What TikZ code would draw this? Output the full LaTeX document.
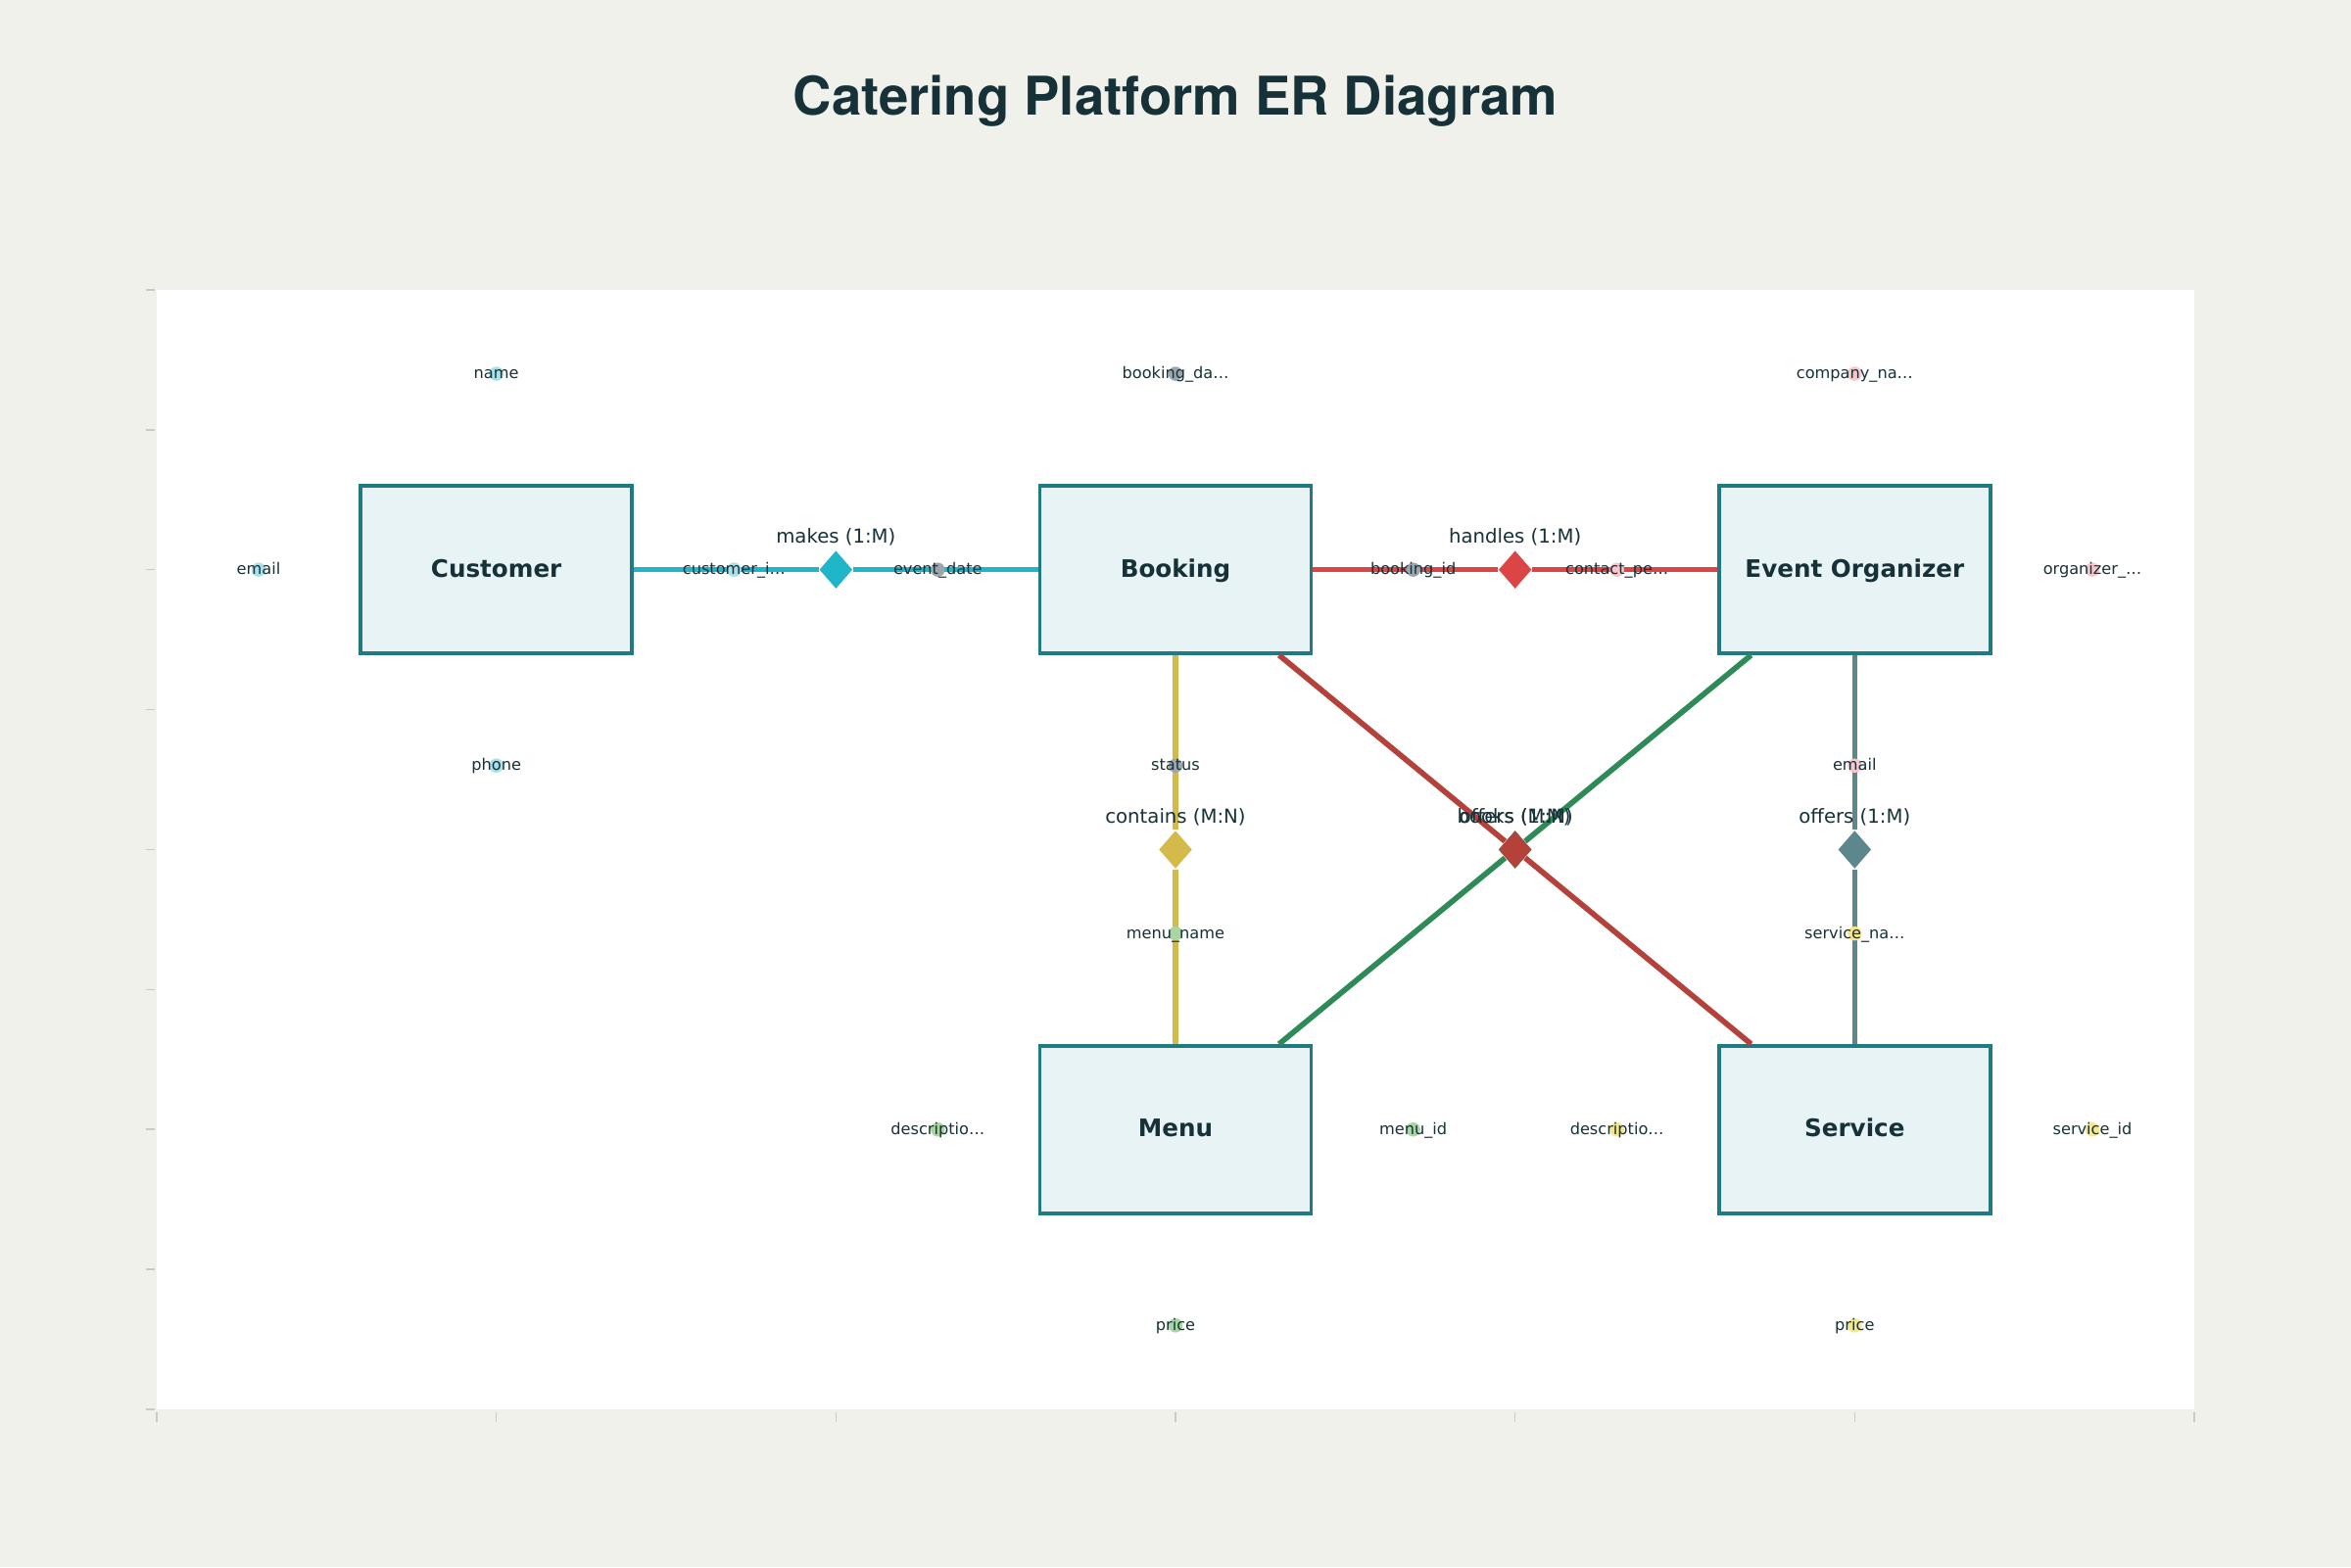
\documentclass[tikz,border=0pt]{standalone}
\usepackage{fontspec}
\setmainfont{DejaVu Sans}
\newfontfamily\titlefont{TeX Gyre Heros}
\usetikzlibrary{shapes.geometric}
\definecolor{pagebg}{HTML}{F1F1EC}
\definecolor{tickgray}{HTML}{CBCBC4}
\definecolor{darktext}{HTML}{163238}
\definecolor{entityline}{HTML}{1F7A82}
\definecolor{entityfill}{HTML}{E8F3F5}
\definecolor{makescol}{HTML}{1FB6CA}
\definecolor{handlescol}{HTML}{DC4545}
\definecolor{containscol}{HTML}{D4B94B}
\definecolor{offerscol}{HTML}{5C878D}
\definecolor{bookscol}{HTML}{B5413B}
\definecolor{menuoffcol}{HTML}{2E8B57}
\definecolor{custdot}{HTML}{A9DFE8}
\definecolor{bookdot}{HTML}{9CA6AE}
\definecolor{orgdot}{HTML}{F9C6CB}
\definecolor{menudot}{HTML}{A8D5A2}
\definecolor{servdot}{HTML}{F7E68A}
\tikzset{
  entity node/.style={
    draw=entityline,
    fill=entityfill,
    line width=1pt,
    minimum width=2.77cm,
    minimum height=1.71cm,
    inner sep=0pt,
    text=darktext,
    text height=5.1pt,
    text depth=0.9pt,
    font=\fontsize{7}{8}\selectfont\bfseries,
  },
  rel node/.style={
    diamond,
    inner sep=0pt,
    minimum width=0.34cm,
    minimum height=0.39cm,
  },
  rel line/.style={line width=1.6pt},
  rel text/.style={
    inner sep=0pt,
    text=darktext,
    font=\fontsize{5.6}{7}\selectfont,
  },
  attr dot/.style={
    circle,
    inner sep=0pt,
    minimum size=0.145cm,
  },
  attr text/.style={
    inner sep=0pt,
    text=darktext,
    text height=3.36pt,
    text depth=0.6pt,
    font=\fontsize{4.6}{6}\selectfont,
  },
  axis tick/.style={draw=tickgray, line width=0.45pt},
}

\begin{document}
\begin{tikzpicture}[x=3.4667cm, y=1.429cm]
        \useasboundingbox (-0.4615,-1.1267) rectangle (6.4615,10.0705);
        \fill[pagebg] (-0.4615,-1.1267) rectangle (6.4615,10.0705);
        \fill[white]  (0,0) rectangle (6,8);
        \draw[axis tick] (-0.032,0) -- (-0.006,0) (-0.032,1) -- (-0.006,1) (-0.032,2) -- (-0.006,2)
                         (-0.032,3) -- (-0.006,3) (-0.032,4) -- (-0.006,4) (-0.032,5) -- (-0.006,5)
                         (-0.032,6) -- (-0.006,6) (-0.032,7) -- (-0.006,7) (-0.032,8) -- (-0.006,8);
        \draw[axis tick] (0,-0.021) -- (0,-0.091) (1,-0.021) -- (1,-0.091) (2,-0.021) -- (2,-0.091)
                         (3,-0.021) -- (3,-0.091) (4,-0.021) -- (4,-0.091) (5,-0.021) -- (5,-0.091)
                         (6,-0.021) -- (6,-0.091);

        \node[text=darktext, font=\titlefont\bfseries\fontsize{15.5}{18}\selectfont] (title) at (3,9.35) {Catering Platform ER Diagram};

        \node[entity node] (cust) at (1,6) {Customer};
        \node[entity node] (book) at (3,6) {Booking};
        \node[entity node] (org)  at (5,6) {Event Organizer};
        \node[entity node] (menu) at (3,2) {Menu};
        \node[entity node] (serv) at (5,2) {Service};

        \node[rel node, fill=makescol   ] (makes)    at (2,6) {};
        \node[rel node, fill=handlescol ] (handles)  at (4,6) {};
        \node[rel node, fill=containscol] (contains) at (3,4) {};
        \node[rel node, fill=offerscol  ] (offers)   at (5,4) {};
        \node[rel node, fill=menuoffcol ] (offersm)  at (4,4) {};
        \node[rel node, fill=bookscol   ] (books)    at (4,4) {};

        \draw[rel line, makescol]    (cust) -- (makes) -- (book);
        \draw[rel line, handlescol]  (book) -- (handles) -- (org);
        \draw[rel line, containscol] (book) -- (contains) -- (menu);
        \draw[rel line, offerscol]   (org) -- (offers) -- (serv);
        \draw[rel line, menuoffcol]  (org) -- (offersm) -- (menu);
        \draw[rel line, bookscol]    (book) -- (books) -- (serv);

        \node[rel text] (makes-t)    at (2,6.235) {makes (1:M)};
        \node[rel text] (handles-t)  at (4,6.235) {handles (1:M)};
        \node[rel text] (contains-t) at (3,4.235) {contains (M:N)};
        \node[rel text] (offers-t)   at (5,4.235) {offers (1:M)};
        \node[rel text] (offersm-t)  at (4,4.235) {offers (1:M)};
        \node[rel text] (books-t)    at (4,4.235) {books (M:N)};

        % attributes
        \node[attr dot, fill=custdot, label={[attr text]center:name}]              (cust-a1) at (1,7.4) {};
        \node[attr dot, fill=custdot, label={[attr text]center:email}]             (cust-a2) at (0.3,6) {};
        \node[attr dot, fill=custdot, label={[attr text]center:phone}]             (cust-a3) at (1,4.6) {};
        \node[attr dot, fill=custdot, label={[attr text]center:customer\_i…}]      (cust-a4) at (1.7,6) {};

        \node[attr dot, fill=bookdot, label={[attr text]center:booking\_da…}]      (book-a1) at (3,7.4) {};
        \node[attr dot, fill=bookdot, label={[attr text]center:event\_date}]       (book-a2) at (2.3,6) {};
        \node[attr dot, fill=bookdot, label={[attr text]center:status}]            (book-a3) at (3,4.6) {};
        \node[attr dot, fill=bookdot, label={[attr text]center:booking\_id}]       (book-a4) at (3.7,6) {};

        \node[attr dot, fill=orgdot,  label={[attr text]center:company\_na…}]      (org-a1)  at (5,7.4) {};
        \node[attr dot, fill=orgdot,  label={[attr text]center:contact\_pe…}]      (org-a2)  at (4.3,6) {};
        \node[attr dot, fill=orgdot,  label={[attr text]center:email}]             (org-a3)  at (5,4.6) {};
        \node[attr dot, fill=orgdot,  label={[attr text]center:organizer\_…}]      (org-a4)  at (5.7,6) {};

        \node[attr dot, fill=menudot, label={[attr text]center:menu\_name}]        (menu-a1) at (3,3.4) {};
        \node[attr dot, fill=menudot, label={[attr text]center:descriptio…}]       (menu-a2) at (2.3,2) {};
        \node[attr dot, fill=menudot, label={[attr text]center:price}]             (menu-a3) at (3,0.6) {};
        \node[attr dot, fill=menudot, label={[attr text]center:menu\_id}]          (menu-a4) at (3.7,2) {};

        \node[attr dot, fill=servdot, label={[attr text]center:service\_na…}]      (serv-a1) at (5,3.4) {};
        \node[attr dot, fill=servdot, label={[attr text]center:descriptio…}]       (serv-a2) at (4.3,2) {};
        \node[attr dot, fill=servdot, label={[attr text]center:price}]             (serv-a3) at (5,0.6) {};
        \node[attr dot, fill=servdot, label={[attr text]center:service\_id}]       (serv-a4) at (5.7,2) {};
      \end{tikzpicture}
\end{document}
